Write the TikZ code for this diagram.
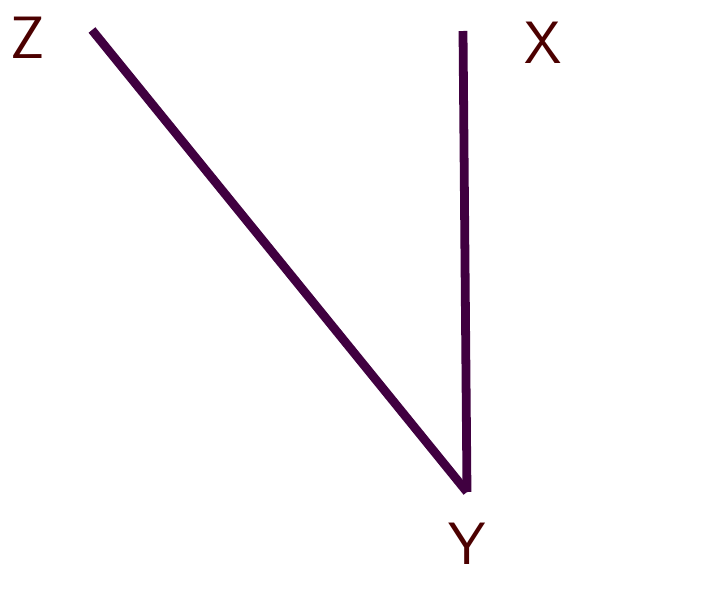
\documentclass[tikz,border=0pt]{standalone}
\usepackage{tikz}
\usetikzlibrary{positioning}

\begin{document}
\begin{tikzpicture}[x=0.02cm, y=-0.02cm]
\tikzset{
  axislbl/.style={font=\sffamily\fontsize{34}{36}\selectfont, text=black!70!red},
  axisline/.style={line width=5pt, violet!50!black}
}
\useasboundingbox (0,0) rectangle (707,599);
% three corner points
\coordinate (pz) at (92,30);
\coordinate (px) at (463,31);
\coordinate (py) at (467,492);
\node[axislbl] (lz) at (28,38) {Z};
\node[axislbl] (lx) at (543,43) {X};
\node[axislbl] (ly) at (467,544) {Y};
% the two legs
\draw[axisline] (pz) -- (py);
\draw[axisline] (px) -- (py);
\end{tikzpicture}
\end{document}
